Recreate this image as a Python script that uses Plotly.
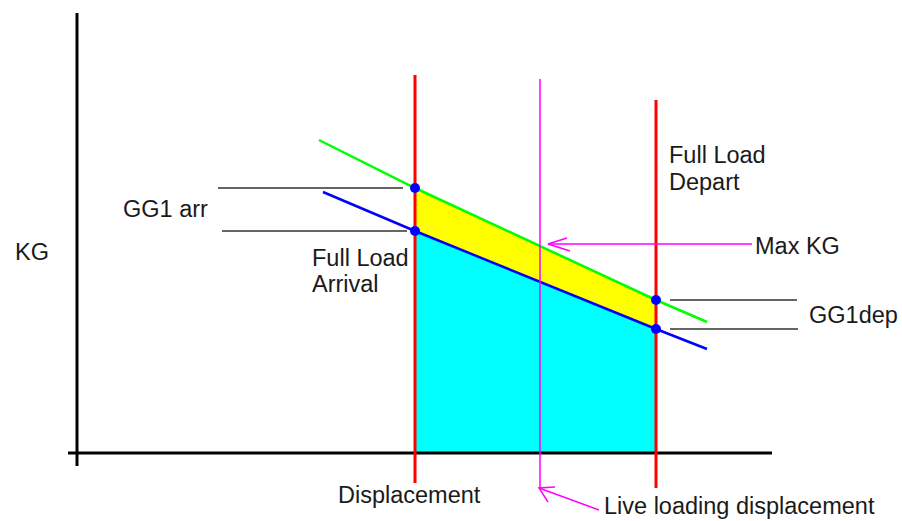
import plotly.graph_objects as go

# Diagram coordinates: x = displacement units, y = KG units (origin at axes crossing)
x_arr = 338          # full load arrival displacement
x_dep = 579          # full load departure displacement
x_live = 463         # live loading displacement

# Max KG line (green)
max_kg_x = [242, 338, 579, 630]
max_kg_y = [313, 265, 153, 131]
# Actual KG line (blue)
kg_x = [246, 338, 579, 630]
kg_y = [261, 222, 124, 104]

# Marked points
gg_arr = [265, 222]   # green / blue at arrival
gg_dep = [153, 124]   # green / blue at departure

# Axis extents
yaxis_span = [-13, 440]
xaxis_span = [-9, 695]
red_arr_span = [-30, 378]
red_dep_span = [-35, 353]
live_span = [-35, 374]

# Guide lines
guide_arr_x = [[141, 326], [145, 330]]
guide_dep_x = [[593, 720], [593, 721]]

# Arrows
maxkg_arrow_x = [675, 471]
maxkg_arrow_y = [209, 209]
maxkg_barbs_x = [490, 471, 493]
maxkg_barbs_y = [215, 209, 202]
live_arrow_x = [522, 462]
live_arrow_y = [-57, -35]
live_barbs_x = [478, 462, 471]
live_barbs_y = [-34, -35, -49]

# Labels
labels = ["KG", "GG1 arr", "Full Load", "Arrival", "Full Load", "Depart",
          "Max KG", "GG1dep", "Displacement", "Live loading displacement"]
label_x = [-63, 45, 234, 234, 591, 591, 677, 731, 260, 526]
label_y = [201, 244, 195, 169, 298, 271, 207, 138, -42, -53]

fig = go.Figure()

def line(x, y, color, width):
    fig.add_trace(go.Scatter(x=x, y=y, mode="lines",
                             line=dict(color=color, width=width),
                             hoverinfo="skip", showlegend=False))

# Cyan area under blue line between arrival and departure
cyan_x = [x_arr, x_dep] + [x_dep, x_arr]
cyan_y = [gg_arr[1], gg_dep[1], 0, 0]
fig.add_trace(go.Scatter(x=cyan_x, y=cyan_y, fill="toself", mode="none",
                         fillcolor="#00FFFF", hoverinfo="skip", showlegend=False))
# Yellow band between green and blue
yel_x = [x_arr, x_dep, x_dep, x_arr]
yel_y = [gg_arr[0], gg_dep[0], gg_dep[1], gg_arr[1]]
fig.add_trace(go.Scatter(x=yel_x, y=yel_y, fill="toself", mode="none",
                         fillcolor="#FFFF00", hoverinfo="skip", showlegend=False))

# Guides
for gx, gy in zip(guide_arr_x, gg_arr):
    line(gx, [gy, gy], "#333333", 1.5)
for gx, gy in zip(guide_dep_x, gg_dep):
    line(gx, [gy, gy], "#333333", 1.5)

# KG lines
line(max_kg_x, max_kg_y, "#00FF00", 2.5)
line(kg_x, kg_y, "#0000FF", 2.5)

# Axes
line([0, 0], yaxis_span, "#000000", 3)
line(xaxis_span, [0, 0], "#000000", 3)

# Vertical lines
line([x_arr, x_arr], red_arr_span, "#FF0000", 3)
line([x_dep, x_dep], red_dep_span, "#FF0000", 3)
line([x_live, x_live], live_span, "#FF00FF", 1.5)

# Arrows
line(maxkg_arrow_x, maxkg_arrow_y, "#FF00FF", 1.5)
line(maxkg_barbs_x, maxkg_barbs_y, "#FF00FF", 1.5)
line(live_arrow_x, live_arrow_y, "#FF00FF", 1.5)
line(live_barbs_x, live_barbs_y, "#FF00FF", 1.5)

# Dots
fig.add_trace(go.Scatter(x=[x_arr, x_arr, x_dep, x_dep],
                         y=[gg_arr[0], gg_arr[1], gg_dep[0], gg_dep[1]],
                         mode="markers", marker=dict(color="#0000FF", size=10),
                         hoverinfo="skip", showlegend=False))

for t, lx, ly in zip(labels, label_x, label_y):
    fig.add_annotation(x=lx, y=ly, text=t, showarrow=False,
                       xanchor="left", yanchor="middle", borderpad=0,
                       font=dict(family="Liberation Sans, Arial, sans-serif",
                                 size=23.5, color="#1a1a1a"))

fig.update_layout(
    width=902, height=521,
    margin=dict(l=0, r=0, t=0, b=0),
    paper_bgcolor="white", plot_bgcolor="white",
    xaxis=dict(range=[-77, 825], visible=False, fixedrange=True),
    yaxis=dict(range=[-68, 453], visible=False, fixedrange=True),
)

fig.write_html("out.html", config={"displayModeBar": False},
               post_script="document.body.style.margin='0';document.body.style.overflow='hidden';")
